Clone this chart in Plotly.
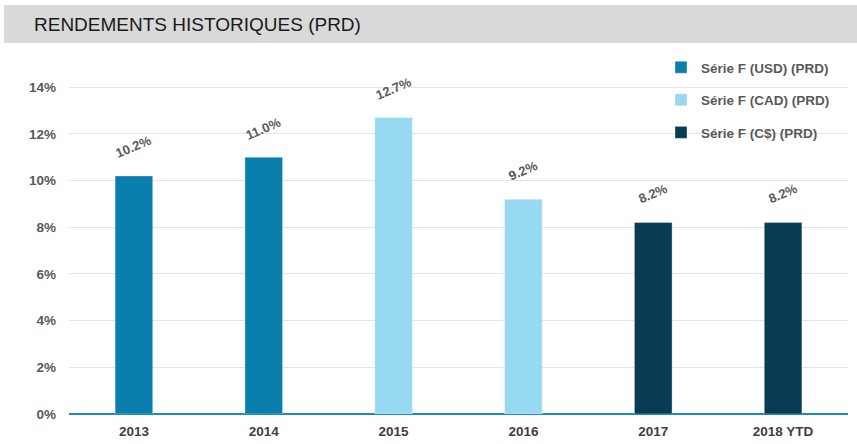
import plotly.graph_objects as go

categories = ["2013", "2014", "2015", "2016", "2017", "2018 YTD"]
series_names = ["Série F (USD) (PRD)", "Série F (CAD) (PRD)", "Série F (C$) (PRD)"]
usd_cats = ["2013", "2014"]
usd_vals = [10.2, 11.0]
cad_cats = ["2015", "2016"]
cad_vals = [12.7, 9.2]
cd_cats = ["2017", "2018 YTD"]
cd_vals = [8.2, 8.2]
y_ticks = [0, 2, 4, 6, 8, 10, 12, 14]
y_ticktext = ["0%", "2%", "4%", "6%", "8%", "10%", "12%", "14%"]
colors = ["#0a7fae", "#98d9f2", "#073c54"]
title_text = "RENDEMENTS HISTORIQUES (PRD)"

W, H = 857, 444
ML, MR, MT, MB = 69, 9, 86, 30
pw, ph = W - ML - MR, H - MT - MB
FONT = "Liberation Sans, Arial"

def px_x(px):
    return (px - ML) / pw

def px_y(py):
    return (H - MB - py) / ph

fig = go.Figure()
for i, (cats, vals) in enumerate([(usd_cats, usd_vals), (cad_cats, cad_vals), (cd_cats, cd_vals)]):
    fig.add_trace(go.Bar(
        x=cats, y=vals, name=series_names[i], width=0.29,
        marker=dict(color=colors[i], line=dict(color="rgba(255,255,255,0.35)", width=1)),
        legendgroup=str(i), hoverinfo="skip",
    ))
    for c, v in zip(cats, vals):
        fig.add_annotation(x=categories.index(c), y=v, text=f"{v:.1f}%", showarrow=False,
                           yshift=29, textangle=-23,
                           font=dict(family=FONT, size=13, color="#595959", weight="bold"))

fig.add_shape(type="rect", xref="paper", yref="paper",
              x0=px_x(4), x1=px_x(857), y0=px_y(43), y1=px_y(5),
              fillcolor="#d9d9d9", line=dict(width=0), layer="below")
fig.add_annotation(xref="paper", yref="paper", x=px_x(32), y=px_y(24),
                   xanchor="left", yanchor="middle", text=title_text, showarrow=False,
                   font=dict(family=FONT, size=19, color="#1a1a1a"))

fig.update_layout(
    width=W, height=H,
    margin=dict(l=ML, r=MR, t=MT, b=MB, pad=0),
    paper_bgcolor="white", plot_bgcolor="white",
    barmode="overlay",
    showlegend=True,
    legend=dict(x=px_x(661), y=px_y(52), xanchor="left", yanchor="top",
                bgcolor="rgba(0,0,0,0)", traceorder="grouped", tracegroupgap=12,
                font=dict(family=FONT, size=13.5, color="#595959", weight="bold"),
                itemwidth=30),
    xaxis=dict(categoryorder="array", categoryarray=categories, type="category",
               range=[-0.5, 5.5], showgrid=False, showline=False, ticks="",
               ticklabelstandoff=7, automargin=False,
               tickfont=dict(family=FONT, size=13.5, color="#404040", weight="bold")),
    yaxis=dict(range=[0, 14.05], tickmode="array", tickvals=y_ticks, ticktext=y_ticktext,
               showgrid=True, gridcolor="#e4e4e4", gridwidth=1,
               zeroline=True, zerolinecolor="#1a8cbf", zerolinewidth=1.5,
               ticks="", ticklabelstandoff=12, automargin=False,
               tickfont=dict(family=FONT, size=13.5, color="#595959", weight="bold")),
)

fig.write_html("out.html", config={"displayModeBar": False},
               post_script="document.body.style.margin='0';document.body.style.padding='0';")
